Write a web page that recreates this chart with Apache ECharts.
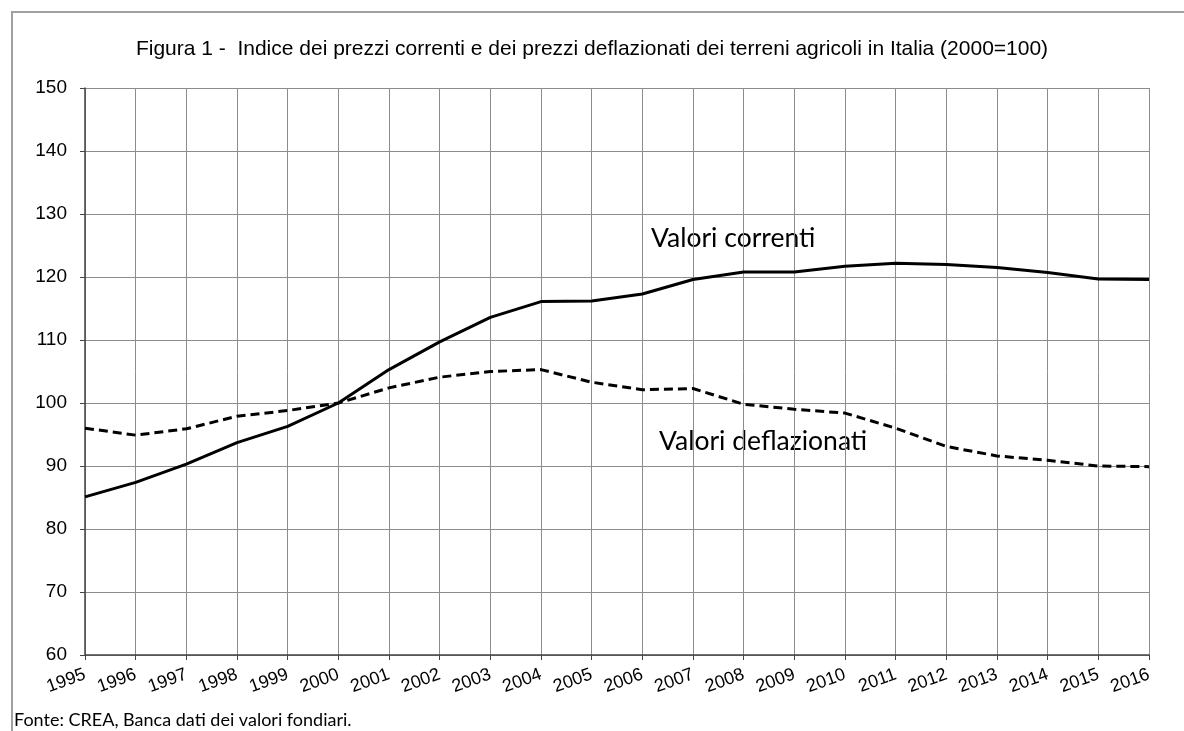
<!DOCTYPE html>
<html>
<head>
<meta charset="utf-8">
<script src="https://cdn.jsdelivr.net/npm/echarts@6/dist/echarts.min.js"></script>
<style>
html,body{margin:0;padding:0;background:#fff;}
#chart{width:1184px;height:731px;}
</style>
</head>
<body>
<div id="chart"></div>
<script>
const years = ['1995','1996','1997','1998','1999','2000','2001','2002','2003','2004','2005','2006','2007','2008','2009','2010','2011','2012','2013','2014','2015','2016'];
const valoriCorrenti = [85.1,87.4,90.3,93.7,96.3,100.0,105.3,109.7,113.6,116.1,116.2,117.3,119.6,120.8,120.8,121.7,122.2,122.0,121.5,120.7,119.7,119.6];
const valoriDeflazionati = [96.0,94.9,95.9,97.9,98.8,100.0,102.4,104.1,105.0,105.3,103.3,102.1,102.3,99.8,99.0,98.4,96.0,93.1,91.6,90.9,90.0,89.9];
const yTicks = {min:60, max:150, interval:10};
const titleText = 'Figura 1 -  Indice dei prezzi correnti e dei prezzi deflazionati dei terreni agricoli in Italia (2000=100)';
const sourceText = 'Fonte: CREA, Banca dati dei valori fondiari.';
const labelCorrenti = 'Valori correnti';
const labelDeflazionati = 'Valori deflazionati';

const chart = echarts.init(document.getElementById('chart'), null, {renderer:'canvas'});
const gridColor = '#8c8c8c';
chart.setOption({
  animation:false,
  backgroundColor:'#fff',
  title:{
    text:titleText, left:'center', top:34,
    textStyle:{fontFamily:'Liberation Sans, Arial', fontSize:21, fontWeight:'normal', color:'#000'}
  },
  grid:{left:85, right:35, top:88, bottom:76, containLabel:false},
  xAxis:{
    type:'category', data:years, boundaryGap:false,
    axisLine:{lineStyle:{color:'#444', width:1.5}},
    axisTick:{show:true, length:5, lineStyle:{color:'#444'}},
    axisLabel:{rotate:20, margin:19, fontFamily:'Liberation Sans, Arial', fontSize:18, color:'#000', interval:0},
    splitLine:{show:true, lineStyle:{color:gridColor, width:1}}
  },
  yAxis:{
    type:'value', min:yTicks.min, max:yTicks.max, interval:yTicks.interval,
    axisLine:{show:true, lineStyle:{color:'#444', width:1.5}},
    axisTick:{show:true, length:5, lineStyle:{color:'#444'}},
    axisLabel:{margin:18, fontFamily:'Liberation Sans, Arial', fontSize:19, color:'#000'},
    splitLine:{show:true, lineStyle:{color:gridColor, width:1}}
  },
  series:[
    {name:labelCorrenti, type:'line', data:valoriCorrenti, symbol:'none',
     lineStyle:{color:'#000', width:3}},
    {name:labelDeflazionati, type:'line', data:valoriDeflazionati, symbol:'none',
     lineStyle:{color:'#000', width:3, type:[9,5]}}
  ],
  graphic:[
    {type:'rect', shape:{x:12, y:12, width:1300, height:900}, style:{fill:'none', stroke:'#a0a0a0', lineWidth:2}, silent:true},
    {type:'text', left:651, top:225, style:{text:labelCorrenti, font:'26.5px Lato, "Open Sans", sans-serif', fill:'#000'}},
    {type:'text', left:659, top:428, style:{text:labelDeflazionati, font:'26.5px Lato, "Open Sans", sans-serif', fill:'#000'}},
    {type:'text', left:14, top:711, style:{text:sourceText, font:'18px Lato, "Open Sans", sans-serif', fill:'#000'}}
  ]
});
</script>
</body>
</html>
